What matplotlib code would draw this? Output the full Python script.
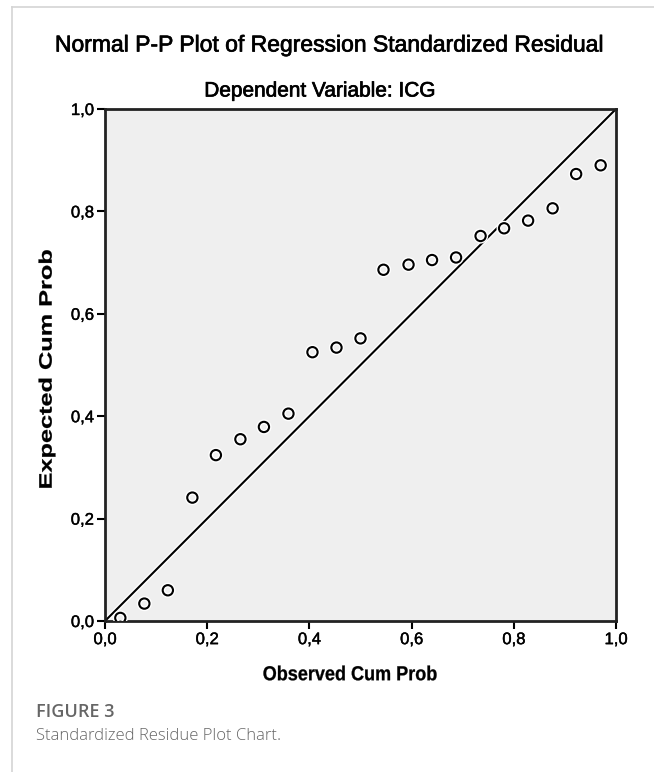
import numpy as np
import matplotlib.pyplot as plt
import matplotlib.patheffects as pe
from matplotlib.ticker import FuncFormatter
from matplotlib.lines import Line2D
from matplotlib.textpath import TextPath
from matplotlib.patches import PathPatch
from matplotlib.font_manager import FontProperties
from matplotlib.transforms import Affine2D

# observed vs expected cumulative probability
observed = [0.030, 0.077, 0.123, 0.171, 0.217, 0.265, 0.311, 0.359, 0.406, 0.453, 0.500,
            0.545, 0.594, 0.640, 0.687, 0.735, 0.781, 0.828, 0.876, 0.922, 0.970]
expected = [0.006, 0.034, 0.060, 0.241, 0.324, 0.355, 0.379, 0.405, 0.525, 0.534, 0.552,
            0.686, 0.696, 0.705, 0.710, 0.752, 0.767, 0.782, 0.806, 0.873, 0.890]
ticks = [0.0, 0.2, 0.4, 0.6, 0.8, 1.0]

plt.rcParams['font.family'] = ['Liberation Sans', 'DejaVu Sans']

fig = plt.figure(figsize=(6.54, 7.72), dpi=100)
W, H = 654, 772


def stretched_text(s, cx, cy, size, sx=1.0, sy=1.0, rot=0, weight='bold'):
    # text drawn as a path so it can be stretched like the source image (pixel coords, top-left origin)
    fp = FontProperties(family='Liberation Sans', weight=weight, size=size)
    tp = TextPath((0, 0), s, prop=fp)
    bb = tp.get_extents()
    tr = (Affine2D().translate(-(bb.x0 + bb.x1) / 2, -(bb.y0 + bb.y1) / 2)
          .scale(sx * fig.dpi / 72, sy * fig.dpi / 72).rotate_deg(rot)
          .translate(cx, H - cy))
    fig.add_artist(PathPatch(tp, transform=tr, facecolor='black', edgecolor='black', lw=0.2))


# frame lines of the figure card
fig.add_artist(Line2D([12 / W, 1], [1 - 7 / H, 1 - 7 / H], color='#d4d4d4', lw=1.2))
fig.add_artist(Line2D([12 / W, 12 / W], [0, 1 - 7 / H], color='#d4d4d4', lw=1.2))

left, right, top, bottom = 105, 616, 109, 621
ax = fig.add_axes([left / W, 1 - bottom / H, (right - left) / W, (bottom - top) / H])
ax.set_facecolor('#efefef')

halo = [pe.Stroke(linewidth=3.5, foreground='white'), pe.Normal()]
ax.plot([0, 1], [0, 1], color='black', lw=1.5, path_effects=halo, zorder=2)
ax.scatter(observed, expected, s=55, facecolors='none', edgecolors='black',
           linewidths=1.5, zorder=3,
           path_effects=[pe.Stroke(linewidth=3.5, foreground='white'), pe.Normal()])

ax.set_xlim(0, 1)
ax.set_ylim(0, 1)
ax.set_xticks(ticks)
ax.set_yticks(ticks)
fmt = FuncFormatter(lambda v, p: f'{v:.1f}'.replace('.', ','))
ax.xaxis.set_major_formatter(fmt)
ax.yaxis.set_major_formatter(fmt)
ax.tick_params(direction='out', length=6, width=1.5, labelsize=12, colors='black', pad=2)
heavy = [pe.withStroke(linewidth=0.5, foreground='black')]
for lab in ax.get_xticklabels() + ax.get_yticklabels():
    lab.set_path_effects([pe.withStroke(linewidth=0.3, foreground='black')])
for s in ax.spines.values():
    s.set_linewidth(2)
    s.set_color('#222222')

# axis titles
stretched_text('Observed Cum Prob', 350, 673, 13, sy=1.12)
stretched_text('Expected Cum Prob', 47, 369, 13, sx=1.4, rot=90)

fig.text(329 / W, 1 - 45 / H, 'Normal P-P Plot of Regression Standardized Residual',
         ha='center', va='center', fontsize=16.5, path_effects=heavy)
fig.text(320 / W, 1 - 91 / H, 'Dependent Variable: ICG',
         ha='center', va='center', fontsize=15, path_effects=heavy)

fig.text(36 / W, 1 - 712 / H, 'FIGURE 3', ha='left', va='center', fontsize=13,
         color='#666666', family=['Open Sans', 'DejaVu Sans'], fontweight='semibold')
fig.text(36 / W, 1 - 736 / H, 'Standardized Residue Plot Chart.', ha='left', va='center',
         fontsize=12, color='#666666', family=['Open Sans', 'DejaVu Sans'], fontweight='light')

fig.savefig('out.png', dpi=100)
